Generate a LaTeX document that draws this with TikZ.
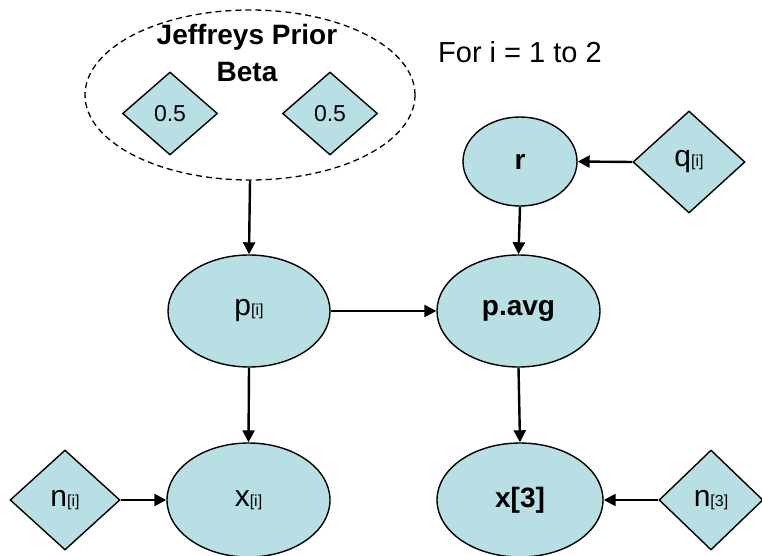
\documentclass[tikz,border=0pt]{standalone}
\usepackage{fontspec}
\setmainfont{Liberation Sans}
\usetikzlibrary{shapes.geometric,arrows.meta}
\definecolor{nodefill}{RGB}{184,223,228}
\newcommand{\lgtxt}{\fontsize{28}{30}\selectfont}
\newcommand{\rgtxt}{\fontsize{30}{32}\selectfont}
\newcommand{\smtxt}{\fontsize{16}{18}\selectfont}
\begin{document}
\begin{tikzpicture}[x=1pt,y=-1pt,
  ell/.style={ellipse,draw=black,line width=1.4pt,fill=nodefill,inner sep=0pt,font=\rgtxt},
  dia/.style={diamond,draw=black,line width=1.4pt,fill=nodefill,inner sep=0pt,font=\rgtxt},
  arr/.style={line width=2.4pt,-{Triangle[length=12pt,width=12pt]}},
  lbl/.style={inner sep=0pt,font=\lgtxt}]
\useasboundingbox (0,0) rectangle (762,556);
% prior
\node[ellipse,draw=black,dash pattern=on 6pt off 4pt,line width=1.3pt,minimum width=330pt,minimum height=170pt,inner sep=0pt] (jp) at (250,95) {};
\node[lbl,font=\lgtxt\bfseries] (jt) at (247,37) {Jeffreys Prior};
\node[lbl,font=\lgtxt\bfseries] (bt) at (247,72) {Beta};
\node[dia,minimum width=95pt,minimum height=83pt,font=\fontsize{23}{25}\selectfont] (a) at (170,113.5) {0.5};
\node[dia,minimum width=95pt,minimum height=83pt,font=\fontsize{23}{25}\selectfont] (b) at (330,113.5) {0.5};
\node[lbl,font=\fontsize{29}{31}\selectfont] (for) at (520,52) {For i = 1 to 2};
% nodes
\node[ell,minimum width=114pt,minimum height=89pt,font=\lgtxt\bfseries] (r) at (520,161.5) {r};
\node[dia,minimum width=112pt,minimum height=102pt] (q) at (689,162) {q{\smtxt[i]}};
\node[ell,minimum width=162pt,minimum height=112pt] (p) at (249,311) {p{\smtxt[i]}};
\node[ell,minimum width=163pt,minimum height=112pt,font=\lgtxt\bfseries] (pavg) at (518.5,311) {p.avg};
\node[ell,minimum width=163pt,minimum height=114pt] (x) at (248.5,500) {x{\smtxt[i]}};
\node[ell,minimum width=166pt,minimum height=114pt,font=\lgtxt\bfseries] (x3) at (520,500) {x[3]};
\node[dia,minimum width=110pt,minimum height=100pt] (n) at (65,500) {n{\smtxt[i]}};
\node[dia,minimum width=104pt,minimum height=100pt] (n3) at (711,500) {n{\smtxt[3]}};
% edges
\draw[arr] (jp.south) -- (p.north);
\draw[arr] (q.west) -- (r.east);
\draw[arr] (r.south) -- (pavg.north);
\draw[arr] (p.east) -- (pavg.west);
\draw[arr] (p.south) -- (x.north);
\draw[arr] (pavg.south) -- (x3.north);
\draw[arr] (n.east) -- (x.west);
\draw[arr] (n3.west) -- (x3.east);
\end{tikzpicture}
\end{document}
